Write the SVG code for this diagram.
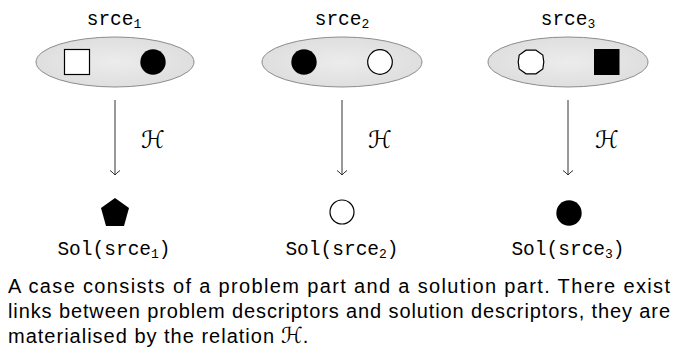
<svg xmlns="http://www.w3.org/2000/svg" width="678" height="351" viewBox="0 0 678 351">
<style>
.mono{font-family:"Liberation Mono","DejaVu Sans Mono",monospace;font-size:19.5px;fill:#000}
.sub{font-size:13px}
.cal{font-family:"DejaVu Sans","DejaVu Serif",serif;font-size:24px;fill:#000}
.cap{font-family:"Liberation Sans","DejaVu Sans",sans-serif;font-size:20px;fill:#000}
.ell{fill:url(#g);stroke:#8c8c8c;stroke-width:1}
.conn{stroke:#333;stroke-width:1;fill:none}
.open{fill:#fff;stroke:#000;stroke-width:1.2}
.solid{fill:#000}
</style>
<defs>
<radialGradient id="g" cx="0.5" cy="0.5" r="0.6">
<stop offset="0" stop-color="#ececec"/>
<stop offset="1" stop-color="#dcdcdc"/>
</radialGradient>
<marker id="ah" markerWidth="10" markerHeight="12" refX="8" refY="6" orient="auto" markerUnits="userSpaceOnUse" viewBox="0 0 10 12">
<path d="M3.5 1 Q6 4.5 8 6 Q6 7.5 3.5 11" fill="none" stroke="#333" stroke-width="1"/>
</marker>
</defs>
<g id="src1">
<text class="mono" x="114" y="25" text-anchor="middle">srce<tspan class="sub" dy="3">1</tspan></text>
<ellipse class="ell" cx="115" cy="62" rx="79" ry="25"/>
<rect class="open" x="64.5" y="49.5" width="25" height="25"/>
<circle class="solid" cx="153" cy="62" r="12.7"/>
</g>
<g id="src2">
<text class="mono" x="342" y="25" text-anchor="middle">srce<tspan class="sub" dy="3">2</tspan></text>
<ellipse class="ell" cx="342" cy="62" rx="80" ry="25"/>
<circle class="solid" cx="304" cy="62" r="12.7"/>
<circle class="open" cx="380" cy="62" r="12.3"/>
</g>
<g id="src3">
<text class="mono" x="568" y="25" text-anchor="middle">srce<tspan class="sub" dy="3">3</tspan></text>
<ellipse class="ell" cx="568" cy="62" rx="80" ry="25"/>
<polygon class="open" points="536,50.2 542.8,55 543.8,62 542.8,69 536,73.8 526,73.8 519.2,69 518.2,62 519.2,55 526,50.2"/>
<rect class="solid" x="594" y="49" width="25.5" height="26"/>
</g>
<g id="connectors">
<line class="conn" x1="115" y1="100" x2="115" y2="175" marker-end="url(#ah)"/>
<line class="conn" x1="342" y1="100" x2="342" y2="175" marker-end="url(#ah)"/>
<line class="conn" x1="568" y1="100" x2="568" y2="175" marker-end="url(#ah)"/>
<text class="cal" x="141" y="148">ℋ</text>
<text class="cal" x="368" y="148">ℋ</text>
<text class="cal" x="595" y="148">ℋ</text>
</g>
<g id="sol1">
<polygon class="solid" points="115,198 129,208 124,226 106,226 101,208"/>
<text class="mono" x="114" y="255" text-anchor="middle">Sol(srce<tspan class="sub" dy="3">1</tspan><tspan dy="-3">)</tspan></text>
</g>
<g id="sol2">
<circle class="open" cx="342" cy="212" r="12"/>
<text class="mono" x="342" y="255" text-anchor="middle">Sol(srce<tspan class="sub" dy="3">2</tspan><tspan dy="-3">)</tspan></text>
</g>
<g id="sol3">
<circle class="solid" cx="569" cy="213" r="12.7"/>
<text class="mono" x="568" y="255" text-anchor="middle">Sol(srce<tspan class="sub" dy="3">3</tspan><tspan dy="-3">)</tspan></text>
</g>
<g id="caption">
<text class="cap" x="8" y="293" textLength="662" lengthAdjust="spacing">A case consists of a problem part and a solution part.  There exist</text>
<text class="cap" x="8" y="318" textLength="662" lengthAdjust="spacing">links between problem descriptors and solution descriptors, they are</text>
<text class="cap" x="8" y="343"><tspan textLength="266" lengthAdjust="spacing">materialised by the relation</tspan><tspan class="cal" x="281" style="font-size:22px">ℋ</tspan>.</text>
</g>
</svg>
